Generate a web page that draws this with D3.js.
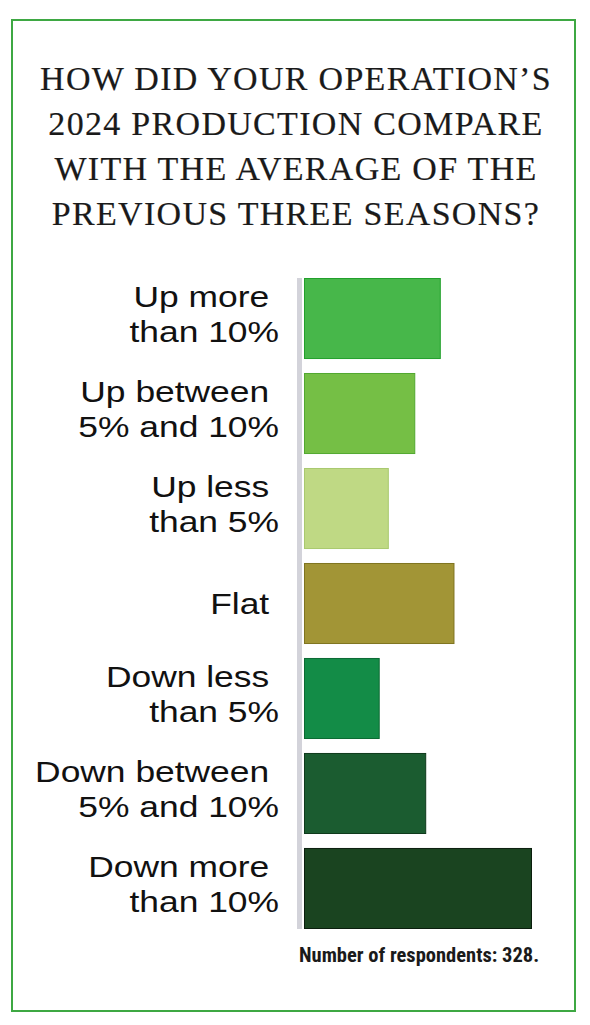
<!DOCTYPE html>
<html>
<head>
<meta charset="utf-8">
<script src="https://cdn.jsdelivr.net/npm/d3@7"></script>
<style>
  html, body { margin: 0; padding: 0; background: #fff; }
  svg { display: block; }
</style>
</head>
<body>
<svg id="chart" width="590" height="1025"></svg>
<script>
// ---- data ----
const titleLines = [
  "HOW DID YOUR OPERATION\u2019S",
  "2024 PRODUCTION COMPARE",
  "WITH THE AVERAGE OF THE",
  "PREVIOUS THREE SEASONS?"
];
const categories = [
  "Up more than 10%",
  "Up between 5% and 10%",
  "Up less than 5%",
  "Flat",
  "Down less than 5%",
  "Down between 5% and 10%",
  "Down more than 10%"
];
const labelLines = [
  ["Up more ", "than 10%"],
  ["Up between ", "5% and 10%"],
  ["Up less ", "than 5%"],
  ["Flat "],
  ["Down less ", "than 5%"],
  ["Down between ", "5% and 10%"],
  ["Down more ", "than 10%"]
];
const values = [15.0, 12.2, 9.3, 16.5, 8.3, 13.4, 25.0];
const fillColors = ["#47b74a", "#75bf45", "#bfd984", "#a29536", "#138c47", "#1b5c30", "#1a4420"];
const strokeColors = ["#22a02c", "#52a830", "#a9c96f", "#7f7420", "#0b6a33", "#0f3a1c", "#0b1e0e"];
const footnote = "Number of respondents: 328.";

// ---- layout ----
const svg = d3.select("#chart");

svg.append("rect")
  .attr("x", 12).attr("y", 20)
  .attr("width", 563).attr("height", 991)
  .attr("fill", "none")
  .attr("stroke", "#3ea843")
  .attr("stroke-width", 2);

svg.append("g").selectAll("text")
  .data(titleLines)
  .join("text")
  .attr("x", 296)
  .attr("y", (d, i) => 90 + i * 45)
  .attr("text-anchor", "middle")
  .attr("font-family", "'Liberation Serif', 'DejaVu Serif', serif")
  .attr("font-size", 34)
  .attr("letter-spacing", 1.3)
  .attr("fill", "#1a1a1a")
  .attr("stroke", "#1a1a1a")
  .attr("stroke-width", 0.2)
  .text(d => d);

const y = d3.scaleBand()
  .domain(categories)
  .range([278, 929])
  .paddingInner(0.147)
  .paddingOuter(0);

const x = d3.scaleLinear()
  .domain([0, 25])
  .range([304, 532]);

// axis line
svg.append("rect")
  .attr("x", 297).attr("y", y.range()[0])
  .attr("width", 5).attr("height", y.range()[1] - y.range()[0])
  .attr("fill", "#d3d3da");

// bars
svg.append("g").selectAll("rect")
  .data(categories)
  .join("rect")
  .attr("x", x(0) + 0.5)
  .attr("y", d => y(d) + 0.5)
  .attr("width", (d, i) => x(values[i]) - x(0) - 1)
  .attr("height", y.bandwidth() - 1)
  .attr("fill", (d, i) => fillColors[i])
  .attr("stroke", (d, i) => strokeColors[i])
  .attr("stroke-width", 1);

// labels (wide grotesque: stretched horizontally)
const lg = svg.append("g").attr("transform", "translate(279,0) scale(1.18,1)");
categories.forEach((c, i) => {
  const cy = y(c) + y.bandwidth() / 2;
  const lines = labelLines[i];
  const t = lg.append("text")
    .attr("text-anchor", "end")
    .attr("font-family", "'Liberation Sans', Arial, sans-serif")
    .attr("font-size", 30)
    .attr("fill", "#111")
    .style("white-space", "pre");
  lines.forEach((ln, j) => {
    const by = lines.length === 1 ? cy + 11 : cy - 11.5 + j * 35;
    t.append("tspan")
      .attr("x", 0)
      .attr("y", by)
      .text(ln);
  });
});

svg.append("text")
  .attr("x", 299)
  .attr("y", 962)
  .attr("font-family", "'Liberation Sans Narrow', 'Roboto Condensed', 'Liberation Sans', sans-serif")
  .attr("font-size", 20.5)
  .attr("font-weight", "bold")
  .attr("fill", "#1a1a1a")
  .text(footnote);
</script>
</body>
</html>
